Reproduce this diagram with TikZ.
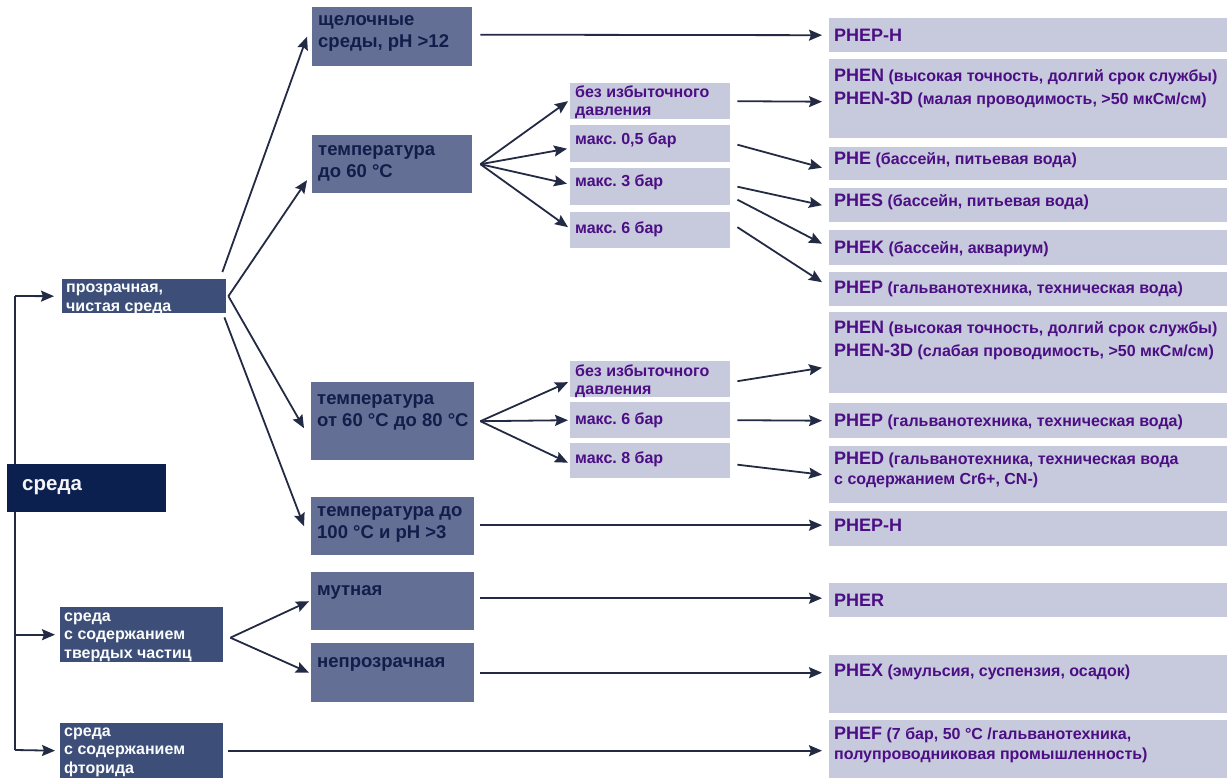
\documentclass[tikz,border=0pt]{standalone}
\usepackage{fontspec}
\setmainfont{Liberation Sans}
\usetikzlibrary{positioning, arrows.meta}
\frenchspacing

\definecolor{navy}{HTML}{0C2050}
\definecolor{slate}{HTML}{3D4F78}
\definecolor{dusk}{HTML}{646F95}
\definecolor{mist}{HTML}{C7C9DC}
\definecolor{ink}{HTML}{141C4A}
\definecolor{plum}{HTML}{4C0E84}
\definecolor{wire}{HTML}{232A44}

% width, height, baseline of first line, lines
\newcommand{\cell}[4]{\parbox[t][#2][t]{#1}{\rule{0pt}{#3}\begin{tabular}[t]{@{}l@{}}#4\end{tabular}}}
\newcommand{\mdl}[1]{{\fontsize{18}{20}\selectfont #1}}

\begin{document}
\begin{tikzpicture}[x=1pt, y=-1pt,
        root/.style={anchor=north west, inner xsep=15pt, inner ysep=0pt, fill=navy, text=white!80!mist, font=\bfseries\fontsize{20.5}{24}\selectfont},
        kind/.style={anchor=north west, inner xsep=4pt, inner ysep=0pt, fill=slate, text=white!92!mist, font=\bfseries\fontsize{16}{18.5}\selectfont},
        cond/.style={anchor=north west, inner xsep=6pt, inner ysep=0pt, fill=dusk, text=ink, font=\bfseries\fontsize{18.5}{22}\selectfont},
        press/.style={anchor=north west, inner xsep=5pt, inner ysep=0pt, fill=mist, text=plum, font=\bfseries\fontsize{16}{18}\selectfont},
        probe/.style={anchor=north west, inner xsep=5pt, inner ysep=0pt, fill=mist, text=plum, font=\bfseries\fontsize{16}{20}\selectfont},
        arrow/.style={-{Stealth[length=13pt, width=11pt, inset=2pt]}, line width=1.8pt, draw=wire},
        trunk/.style={line width=1.8pt, draw=wire}
    ]
    \useasboundingbox (0,0) rectangle (1227,778);

    \coordinate (up) at (15,296);
    \coordinate (down) at (15,750);
    \draw[trunk] (up) -- (down);

    \node[root] (env) at (7,464) {\cell{129pt}{48pt}{26pt}{среда}};

    \node[kind] (clear) at (62,279) {\cell{156pt}{34pt}{13.5pt}{прозрачная,\\чистая среда}};
    \node[kind] (solid) at (60,607) {\cell{155pt}{55pt}{14pt}{среда\\с содержанием\\твердых частиц}};
    \node[kind] (fluor) at (60,723) {\cell{155pt}{55pt}{13pt}{среда\\с содержанием\\фторида}};

    \node[cond] (alk) at (312,7) {\cell{148pt}{59pt}{18pt}{щелочные\\среды, pH >12}};
    \node[cond] (t60) at (312,135) {\cell{148pt}{58pt}{20pt}{температура\\до 60 °C}};
    \node[cond] (t80) at (311,382) {\cell{151pt}{78pt}{22pt}{температура\\от 60 °C до 80 °C}};
    \node[cond] (t100) at (311,497) {\cell{151pt}{58pt}{19pt}{температура до\\100 °C и pH >3}};
    \node[cond] (turbid) at (311,572) {\cell{151pt}{58pt}{23pt}{мутная}};
    \node[cond] (opaque) at (311,643) {\cell{151pt}{59pt}{24pt}{непрозрачная}};

    \node[press] (a1) at (570,83) {\cell{150pt}{36pt}{14pt}{без избыточного\\давления}};
    \node[press] (a2) at (570,125) {\cell{150pt}{37pt}{19pt}{макс. 0,5 бар}};
    \node[press] (a3) at (570,168) {\cell{150pt}{37pt}{18pt}{макс. 3 бар}};
    \node[press] (a4) at (570,212) {\cell{150pt}{36pt}{21pt}{макс. 6 бар}};
    \node[press] (b1) at (570,361) {\cell{150pt}{36pt}{15pt}{без избыточного\\давления}};
    \node[press] (b2) at (570,402) {\cell{150pt}{36pt}{22pt}{макс. 6 бар}};
    \node[press] (b3) at (570,443) {\cell{150pt}{35pt}{20pt}{макс. 8 бар}};

    \node[probe] (r1) at (829,18) {\cell{388pt}{34pt}{23.5pt}{\mdl{PHEP-H}}};
    \node[probe] (r2) at (829,59) {\cell{388pt}{79pt}{22.5pt}{\mdl{PHEN} (высокая точность, долгий срок службы)\\[3pt]\mdl{PHEN-3D} (малая проводимость, >50 мкСм/см)}};
    \node[probe] (r3) at (829,147) {\cell{388pt}{33pt}{17.5pt}{\mdl{PHE} (бассейн, питьевая вода)}};
    \node[probe] (r4) at (829,188) {\cell{388pt}{34pt}{18.5pt}{\mdl{PHES} (бассейн, питьевая вода)}};
    \node[probe] (r5) at (829,230) {\cell{388pt}{35pt}{23.5pt}{\mdl{PHEK} (бассейн, аквариум)}};
    \node[probe] (r6) at (829,272) {\cell{388pt}{34pt}{21.5pt}{\mdl{PHEP} (гальванотехника, техническая вода)}};
    \node[probe] (r7) at (829,312) {\cell{388pt}{81pt}{21.5pt}{\mdl{PHEN} (высокая точность, долгий срок службы)\\[3pt]\mdl{PHEN-3D} (слабая проводимость, >50 мкСм/см)}};
    \node[probe] (r8) at (829,403) {\cell{388pt}{35pt}{23.5pt}{\mdl{PHEP} (гальванотехника, техническая вода)}};
    \node[probe] (r9) at (829,446) {\cell{388pt}{57pt}{18.5pt}{\mdl{PHED} (гальванотехника, техническая вода\\с содержанием Cr6+, CN-)}};
    \node[probe] (r10) at (829,511) {\cell{388pt}{35pt}{20.5pt}{\mdl{PHEP-H}}};
    \node[probe] (r11) at (829,583) {\cell{388pt}{34pt}{23.5pt}{\mdl{PHER}}};
    \node[probe] (r12) at (829,655) {\cell{388pt}{58pt}{21.5pt}{\mdl{PHEX} (эмульсия, суспензия, осадок)}};
    \node[probe] (r13) at (829,720) {\cell{388pt}{58pt}{19.5pt}{\mdl{PHEF} (7 бар, 50 °C /гальванотехника,\\полупроводниковая промышленность)}};

    \draw[arrow] (up) -- ([xshift=-8pt]clear.west);
    \draw[arrow] (up |- solid.west) -- ([xshift=-5pt]solid.west);
    \draw[arrow] (down) -- ([xshift=-5pt]fluor.west);

    \draw[arrow] ([xshift=-4pt,yshift=7pt]clear.north east) -- ([xshift=-5pt]alk.west);
    \draw[arrow] ([xshift=2pt]clear.east) -- ([xshift=-5pt,yshift=-16pt]t60.west);
    \draw[arrow] ([xshift=2pt]clear.east) -- ([xshift=-7pt,yshift=-7pt]t80.west);
    \draw[arrow] ([xshift=-2pt,yshift=-4pt]clear.south east) -- ([xshift=-7pt]t100.west);

    \draw[arrow] ([xshift=8pt]t60.east) -- ([xshift=-2pt]a1.west);
    \draw[arrow] ([xshift=8pt]t60.east) -- ([xshift=-3pt,yshift=-5pt]a2.west);
    \draw[arrow] ([xshift=8pt]t60.east) -- ([xshift=-3pt,yshift=3pt]a3.west);
    \draw[arrow] ([xshift=8pt]t60.east) -- ([xshift=-2pt,yshift=3pt]a4.west);

    \draw[arrow] ([xshift=6pt]t80.east) -- ([xshift=-2pt,yshift=-3pt]b1.west);
    \draw[arrow] ([xshift=6pt]t80.east) -- ([xshift=-2pt]b2.west);
    \draw[arrow] ([xshift=6pt]t80.east) -- ([xshift=-2pt,yshift=-2pt]b3.west);

    \draw[arrow] ([xshift=7pt,yshift=-3pt]solid.east) -- ([xshift=-2pt]turbid.west);
    \draw[arrow] ([xshift=7pt,yshift=-3pt]solid.east) -- ([xshift=-2pt]opaque.west);

    \draw[arrow] ([xshift=7pt]a1.east) -- ([xshift=-7pt,yshift=-3pt]r2.west);
    \draw[arrow] ([xshift=7pt,yshift=-1pt]a2.east) -- ([xshift=-7pt,yshift=-4pt]r3.west);
    \draw[arrow] ([xshift=7pt]a3.east) -- ([xshift=-7pt]r4.west);
    \draw[arrow] ([xshift=7pt,yshift=-13pt]a3.east) -- ([xshift=-7pt,yshift=4pt]r5.west);
    \draw[arrow] ([xshift=7pt,yshift=3pt]a4.east) -- ([xshift=-7pt,yshift=7pt]r6.west);
    \draw[arrow] ([xshift=7pt,yshift=-2pt]b1.east) -- ([xshift=-7pt,yshift=-15pt]r7.west);
    \draw[arrow] ([xshift=7pt]b2.east) -- ([xshift=-7pt]r8.west);
    \draw[arrow] ([xshift=7pt,yshift=-4pt]b3.east) -- ([xshift=-7pt]r9.west);

    \draw[arrow] ([xshift=8pt,yshift=2pt]alk.east) -- ([xshift=-7pt]r1.west);
    \draw[arrow] ([xshift=6pt,yshift=1pt]t100.east) -- ([xshift=-7pt,yshift=3.5pt]r10.west);
    \draw[arrow] ([xshift=6pt,yshift=3pt]turbid.east) -- ([xshift=-7pt,yshift=2pt]r11.west);
    \draw[arrow] ([xshift=6pt]opaque.east) -- ([xshift=-7pt,yshift=11.5pt]r12.west);
    \draw[arrow] ([xshift=5pt]fluor.east) -- ([xshift=-7pt,yshift=-1.5pt]r13.west);
\end{tikzpicture}
\end{document}
